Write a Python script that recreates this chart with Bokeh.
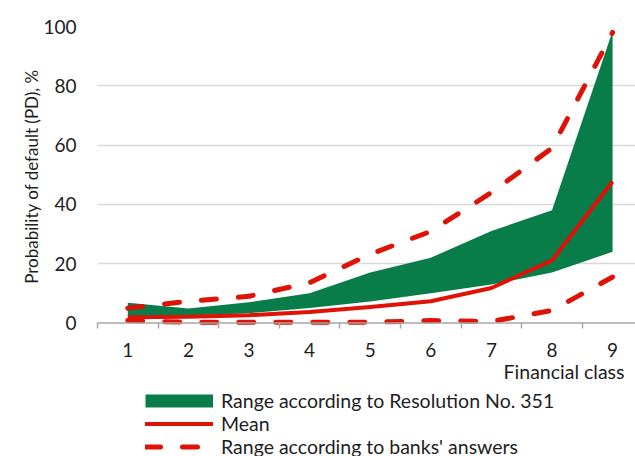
from bokeh.plotting import figure
from bokeh.layouts import column
from bokeh.models import (Range1d, FixedTicker, LinearAxis, Span, Legend, LegendItem,
                          Title, ColumnDataSource)
from bokeh.embed import file_html
from bokeh.resources import INLINE

# ---- data ----
financial_class = [1, 2, 3, 4, 5, 6, 7, 8, 9]
class_labels = ["1", "2", "3", "4", "5", "6", "7", "8", "9"]
resolution_low = [2.2, 2.5, 3.3, 5.0, 7.2, 10.0, 13.0, 17.0, 24.0]
resolution_high = [6.8, 4.9, 7.0, 10.0, 17.0, 22.0, 31.0, 38.0, 98.5]
mean_pd = [1.9, 2.1, 2.6, 3.7, 5.4, 7.3, 11.8, 21.1, 47.7]
banks_low = [0.8, 0.2, 0.2, 0.2, 0.2, 0.8, 0.5, 4.2, 15.5]
banks_high = [5.0, 7.3, 9.0, 13.6, 23.2, 30.9, 44.0, 59.0, 98.0]
y_ticks = [0, 20, 40, 60, 80, 100]
legend_labels = ["Range according to Resolution No. 351", "Mean",
                 "Range according to banks' answers"]

GREEN = "#087c49"
RED = "#de1206"
TEXT = "#1e1e1e"
FONT = "Lato"
DASH = "15 22"

p = figure(width=635, height=384, output_backend="svg", toolbar_location=None,
           x_range=Range1d(0.5, 9.378), y_range=Range1d(-1.2, 100),
           x_axis_location=None, y_axis_location=None,
           min_border_left=97, min_border_right=0, min_border_top=26, min_border_bottom=58)
p.outline_line_color = None
p.background_fill_color = "white"
p.border_fill_color = "white"

src = ColumnDataSource(dict(x=financial_class, lo=resolution_low, hi=resolution_high,
                            mean=mean_pd, blo=banks_low, bhi=banks_high))

# grid
p.xgrid.visible = False
p.ygrid.ticker = FixedTicker(ticks=y_ticks[1:])
p.ygrid.grid_line_color = "#d9d9d9"
p.ygrid.grid_line_width = 1.5

# axes
xaxis = LinearAxis(ticker=FixedTicker(ticks=financial_class,
                                      minor_ticks=[v - 0.5 for v in financial_class]),
                   major_label_overrides={v: s for v, s in zip(financial_class, class_labels)})
xaxis.axis_line_color = None
xaxis.major_tick_line_color = None
xaxis.minor_tick_line_color = "#a6a6a6"
xaxis.minor_tick_line_width = 1.5
xaxis.minor_tick_in = 4
xaxis.minor_tick_out = 2
xaxis.major_label_standoff = 10
xaxis.major_label_text_font = FONT
xaxis.major_label_text_font_size = "19px"
xaxis.major_label_text_color = TEXT
p.add_layout(xaxis, "below")

p.add_layout(Title(text="Financial class", align="right", offset=11, standoff=-3,
                   text_font=FONT, text_font_size="19.5px", text_font_style="normal",
                   text_color=TEXT), "below")

yaxis = LinearAxis(ticker=FixedTicker(ticks=y_ticks))
yaxis.axis_line_color = None
yaxis.major_tick_line_color = None
yaxis.minor_tick_line_color = None
yaxis.major_label_standoff = 15
yaxis.major_label_text_font = FONT
yaxis.major_label_text_font_size = "19px"
yaxis.major_label_text_color = TEXT
yaxis.axis_label = "Probability of default (PD), %"
yaxis.axis_label_text_font = FONT
yaxis.axis_label_text_font_size = "17px"
yaxis.axis_label_text_font_style = "normal"
yaxis.axis_label_text_color = TEXT
yaxis.axis_label_standoff = -2
p.add_layout(yaxis, "left")

p.add_layout(Span(location=0, dimension="width", line_color="#a6a6a6", line_width=1.5))

# glyphs
p.varea(x="x", y1="lo", y2="hi", source=src, fill_color=GREEN)
p.line(x="x", y="bhi", source=src, line_color=RED, line_width=5,
       line_dash=DASH, line_cap="round")
p.line(x="x", y="blo", source=src, line_color=RED, line_width=5,
       line_dash=DASH, line_cap="round")
p.line(x="x", y="mean", source=src, line_color=RED, line_width=4, line_join="round")

# ---- legend strip ----
lg = figure(width=635, height=72, output_backend="svg", toolbar_location=None,
            x_range=Range1d(0, 1), y_range=Range1d(0, 1),
            x_axis_location=None, y_axis_location=None,
            min_border_left=0, min_border_right=0, min_border_top=0, min_border_bottom=0)
lg.outline_line_color = None
lg.grid.visible = False
lg.border_fill_color = "white"

nan = float("nan")
g_proxy = lg.line(x=[nan], y=[nan], line_color=GREEN, line_width=13)
m_proxy = lg.line(x=[nan], y=[nan], line_color=RED, line_width=4, line_cap="round")
d_proxy = lg.line(x=[nan], y=[nan], line_color=RED, line_width=5,
                  line_dash=DASH, line_cap="round")

legend = Legend(items=[
    LegendItem(label=legend_labels[0], renderers=[g_proxy]),
    LegendItem(label=legend_labels[1], renderers=[m_proxy]),
    LegendItem(label=legend_labels[2], renderers=[d_proxy]),
], location=(48, -1.5), orientation="vertical", margin=0, padding=0, spacing=0,
    glyph_width=68, glyph_height=23, label_height=23, label_standoff=8,
    label_text_font=FONT, label_text_font_size="19.5px", label_text_color=TEXT,
    border_line_color=None, background_fill_alpha=0)
lg.add_layout(legend, "center")

open("out.html", "w").write(file_html(column(p, lg, spacing=0), INLINE))
